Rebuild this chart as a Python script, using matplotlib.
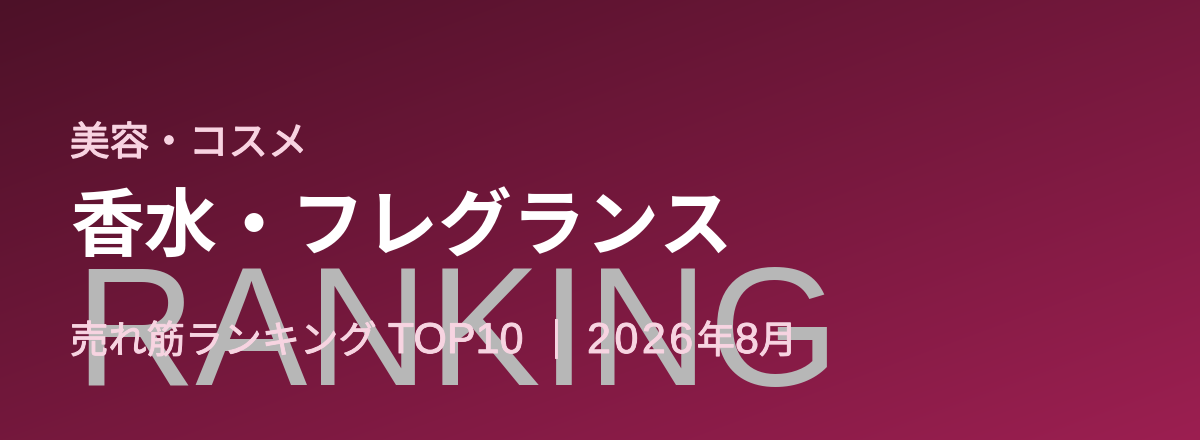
import numpy as np
import matplotlib
matplotlib.use("Agg")
import matplotlib.pyplot as plt
from matplotlib.colors import to_rgb
from matplotlib.font_manager import findfont, FontProperties
from matplotlib.ft2font import FT2Font
import matplotlib.patheffects as pe

W, H = 1200, 440
category = "美容・コスメ"
title = "香水・フレグランス"
watermark = "RANKING"
subtitle_parts = ["売れ筋ランキング", " TOP10 ", "｜", " ", "2026", "年", "8", "月"]
grad_start = "#4d1128"
grad_end = "#9c1f51"

DPI = 100
fig = plt.figure(figsize=(W / DPI, H / DPI), dpi=DPI)
ax = fig.add_axes([0, 0, 1, 1])
ax.set_xlim(0, W)
ax.set_ylim(H, 0)
ax.axis("off")

# background gradient ("to bottom right")
yy, xx = np.mgrid[0:H, 0:W]
t = (H * xx + W * yy) / (2 * W * H)
c0 = np.array(to_rgb(grad_start))
c1 = np.array(to_rgb(grad_end))
img = c0[None, None, :] * (1 - t[..., None]) + c1[None, None, :] * t[..., None]
ax.imshow(img, extent=[0, W, H, 0], aspect="auto", zorder=0)

CJK = ["Noto Sans CJK JP", "DejaVu Sans"]
LAT = ["Liberation Sans", "Noto Sans CJK JP", "DejaVu Sans"]


def is_cjk(s):
    return any(ord(c) > 0x2000 for c in s)


_fonts = {}


def advance(s, fam, size):
    key = fam[0]
    if key not in _fonts:
        _fonts[key] = FT2Font(findfont(FontProperties(family=fam[0])), hinting_factor=1)
    f = _fonts[key]
    f.set_size(size, DPI)
    tot = 0.0
    for c in s:
        g = f.load_char(ord(c))
        tot += g.linearHoriAdvance / 65536.0
    return tot


# watermark
ax.text(74, 385, watermark, fontsize=121, color="#b7b7b7",
        family=["Liberation Sans"], va="baseline", ha="left", zorder=1)

thick = [pe.withStroke(linewidth=0.9, foreground="#f8d3e1")]

# category
ax.text(70, 155, category, fontsize=28.5, color="#f8d3e1", family=CJK,
        va="baseline", ha="left", zorder=3, path_effects=thick)
# title
ax.text(70, 250, title, fontsize=53, color="white", family=CJK,
        fontweight="bold", va="baseline", ha="left", zorder=3)

# subtitle: CJK and Latin runs in their own sizes
sub_color = "#f7d4e1"
sub_fx = [pe.withStroke(linewidth=0.7, foreground=sub_color)]
x = 70.0
base = 353
for part in subtitle_parts:
    if is_cjk(part):
        fam, size, track = CJK, 27.6, 0.0
    else:
        fam, size, track = LAT, 31, 3.5 if part.isdigit() and len(part) > 1 else 0.0
    if track:
        for ch in part:
            ax.text(x, base, ch, fontsize=size, color=sub_color, family=fam,
                    va="baseline", ha="left", zorder=3, path_effects=sub_fx)
            x += advance(ch, fam, size) + track
    else:
        if part.strip():
            ax.text(x, base, part, fontsize=size, color=sub_color, family=fam,
                    va="baseline", ha="left", zorder=3, path_effects=sub_fx)
        x += advance(part, fam, size)

fig.savefig("out.png", dpi=DPI)
